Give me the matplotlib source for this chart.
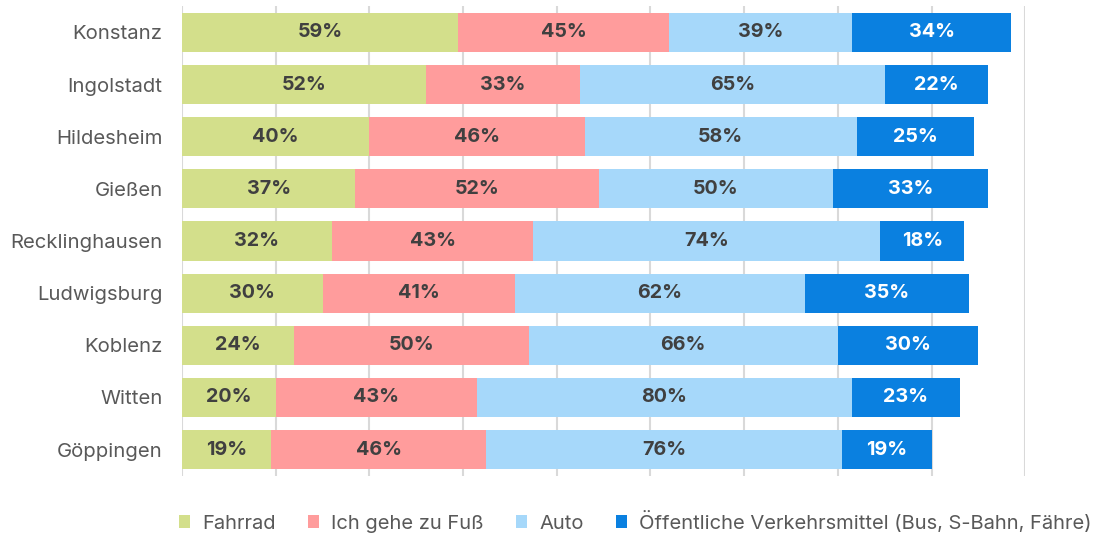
import numpy as np
import matplotlib
matplotlib.use("Agg")
import matplotlib.pyplot as plt

plt.rcParams['font.family'] = ['Inter', 'DejaVu Sans']

# Data (Anteile in %)
cities = ["Konstanz", "Ingolstadt", "Hildesheim", "Gießen", "Recklinghausen",
          "Ludwigsburg", "Koblenz", "Witten", "Göppingen"]
fahrrad = [59, 52, 40, 37, 32, 30, 24, 20, 19]
zu_fuss = [45, 33, 46, 52, 43, 41, 50, 43, 46]
auto = [39, 65, 58, 50, 74, 62, 66, 80, 76]
oepnv = [34, 22, 25, 33, 18, 35, 30, 23, 19]

series_names = ["Fahrrad", "Ich gehe zu Fuß", "Auto",
                "Öffentliche Verkehrsmittel (Bus, S-Bahn, Fähre)"]
colors = ["#D3DF8B", "#FF9C9C", "#A6D8FA", "#0A80E0"]
label_colors = ["#404040", "#404040", "#404040", "white"]

fig = plt.figure(figsize=(11.07, 5.35), dpi=100)
ax = fig.add_axes([0.1644, 0.111, 0.7617, 0.877])

y = np.arange(len(cities))
left = np.zeros(len(cities))
for vals, name, col, lc in zip([fahrrad, zu_fuss, auto, oepnv], series_names, colors, label_colors):
    bars = ax.barh(y, vals, left=left, height=0.75, color=col, label=name, zorder=3)
    for b, v in zip(bars, vals):
        ax.text(b.get_x() + b.get_width() / 2, b.get_y() + b.get_height() / 2,
                f"{v}%", ha="center", va="center", color=lc,
                fontsize=14.2, fontweight="bold", zorder=4)
    left += np.array(vals)

ax.set_xlim(0, 180)
ax.set_ylim(len(cities) - 0.5, -0.5)
ax.set_xticks(np.arange(0, 181, 20))
ax.set_xticklabels([])
ax.tick_params(axis="x", length=0)
ax.tick_params(axis="y", length=0, pad=14, labelsize=14.6, labelcolor="#595959")
ax.set_yticks(y)
ax.set_yticklabels(cities)
ax.grid(axis="x", color="#D9D9D9", linewidth=1.5, zorder=0)
for s in ax.spines.values():
    s.set_visible(False)

leg = fig.legend(loc="center", bbox_to_anchor=(0.574, 0.025), ncol=4, frameon=False,
                 fontsize=14.5, handlelength=0.55, handleheight=0.55, handletextpad=0.6,
                 columnspacing=1.6)
for t in leg.get_texts():
    t.set_color("#595959")

fig.savefig("out.png", dpi=100)
